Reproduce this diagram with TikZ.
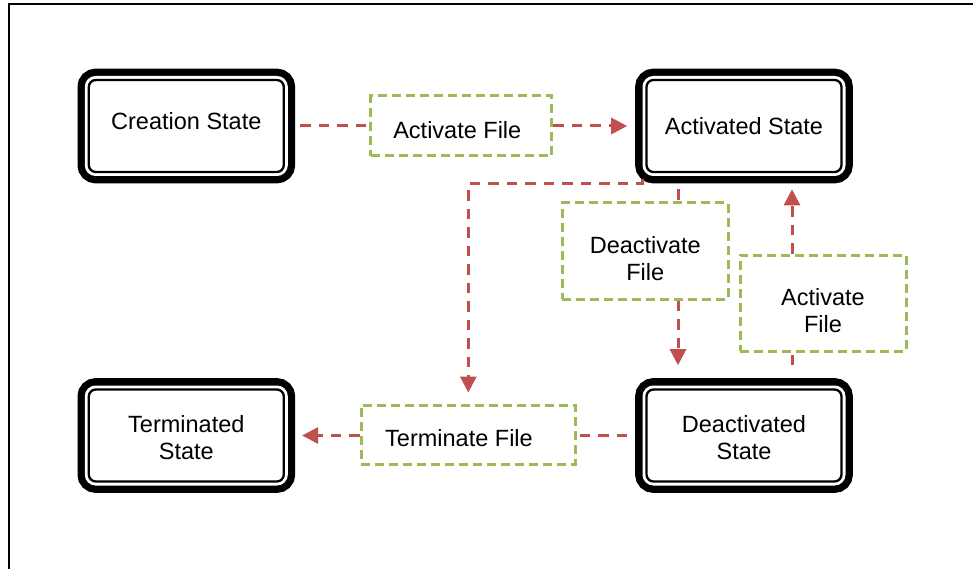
\documentclass[tikz,border=0pt]{standalone}
\usepackage{fontspec}
\setmainfont{Liberation Sans}
\usepackage{xcolor}
\usepackage{tikz}
\usetikzlibrary{arrows.meta}

\definecolor{linkred}{HTML}{C0504D}
\definecolor{boxgreen}{HTML}{9BBB59}

\begin{document}
\begin{tikzpicture}[
x=1pt, y=-1pt,
font=\fontsize{23.5}{27}\selectfont,
state/.style={draw, fill=white, line width=2.3pt, rounded corners=7pt,
  minimum width=195pt, minimum height=92pt, inner sep=0pt, outer sep=11.3pt, align=center,
  preaction={draw=black, line width=22.6pt},
  preaction={draw=white, line width=8pt}},
filebox/.style={draw=boxgreen, fill=white, line width=3pt, dash pattern=on 9pt off 5pt,
  inner sep=0pt, align=center},
link/.style={draw=linkred, line width=3pt, dash pattern=on 10.5pt off 8pt},
arrow/.style={link, -{Triangle[length=16pt,width=16pt]}}
]

\useasboundingbox (0,0) rectangle (973,569);
\draw[line width=2pt] (9,569) -- (9,4) -- (973,4);

\node[state, text depth=10pt] (creation) at (186.3,126) {Creation State};
\node[state] (activated) at (744,126) {Activated State};
\node[state, text height=48pt] (terminated) at (186.3,435.5) {Terminated\\State};
\node[state, text height=48pt] (deactivated) at (744,435.5) {Deactivated\\State};

\node[filebox, minimum width=181pt, minimum height=60pt, text height=26pt] (actfile) at (461.3,126) {Activate File\hspace*{8pt}};
\node[filebox, minimum width=166pt, minimum height=96pt, text height=59pt] (deactfile) at (645.3,251) {Deactivate\\File};
\node[filebox, minimum width=166pt, minimum height=96pt, text height=58pt] (reactfile) at (823,303.3) {Activate\\File};
\node[filebox, minimum width=214pt, minimum height=59pt, text height=24pt] (termfile) at (468,434.5) {Terminate File\hspace*{18pt}};

% top row
\draw[link, shorten <=5pt] (creation) -- (actfile);
\draw[arrow, shorten >=8pt] (actfile) -- (activated);

% activated to terminate
\coordinate (bend) at (468.3,184);
\draw[arrow, shorten >=11pt] ([xshift=7pt,yshift=4pt]activated.south west) |- (bend) -- (bend |- termfile.north);

% deactivate
\coordinate (down) at ([xshift=-66pt]activated.south);
\draw[link, shorten <=6pt] (down) -- (down |- deactfile.north);
\draw[arrow, shorten >=13pt] (down |- deactfile.south) -- (down |- deactivated.north);

% activate again
\coordinate (up) at ([xshift=48pt]deactivated.north);
\draw[link, shorten <=13pt] (up) -- (up |- reactfile.south);
\draw[arrow, shorten >=6pt] (up |- reactfile.north) -- (up |- activated.south);

% bottom row
\draw[link, shorten <=8pt] (deactivated) -- (deactivated -| termfile.east);
\draw[arrow, shorten >=7pt] (termfile.west |- terminated) -- (terminated);

\end{tikzpicture}
\end{document}
